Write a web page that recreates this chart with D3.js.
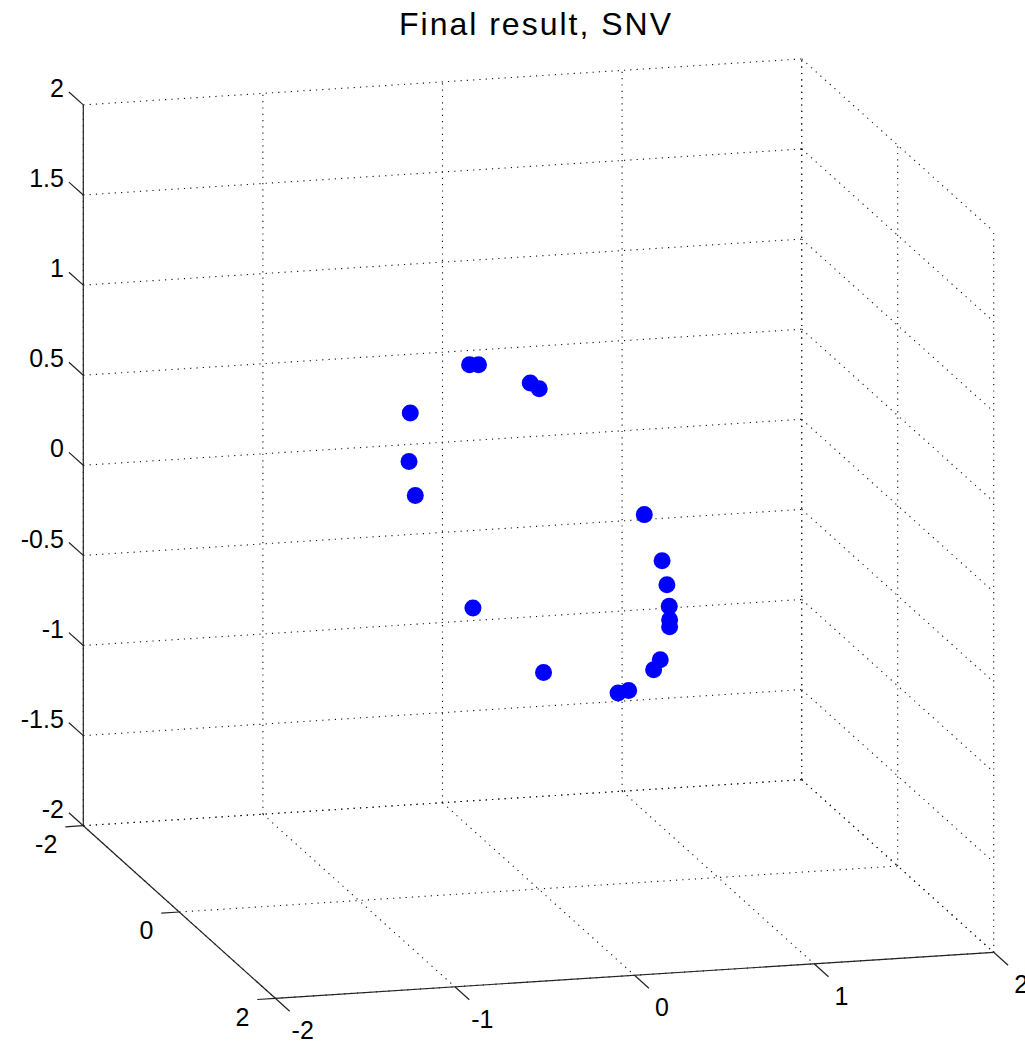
<!DOCTYPE html>
<html>
<head>
<meta charset="utf-8">
<script src="https://cdn.jsdelivr.net/npm/d3@7"></script>
<style>
  html, body { margin: 0; padding: 0; background: #fff; }
  text { font-family: "Liberation Sans", Arial, sans-serif; fill: #000; }
</style>
</head>
<body>
<div id="chart"></div>
<script>
// point coordinates (x, y, z)
const xValues = [-0.384, -0.334, -0.046, 0.004, -0.714, -0.721, -0.686, 0.589, 0.688, 0.715,
                 0.728, 0.730, 0.730, 0.678, 0.641, 0.502, 0.443, -0.365, 0.028];
const yValues = [0, 0, 0, 0, 0, 0, 0, 0, 0, 0,
                 0, 0, 0, 0, 0, 0, 0, 0, 0];
const zValues = [0.934, 0.931, 0.811, 0.776, 0.687, 0.419, 0.228, 0.040, -0.222, -0.357,
                 -0.478, -0.552, -0.591, -0.771, -0.824, -0.930, -0.941, -0.417, -0.800];

const xTicks = [-2, -1, 0, 1, 2];
const yTicks = [-2, 0, 2];
const zTicks = [2, 1.5, 1, 0.5, 0, -0.5, -1, -1.5, -2];
const title = "Final result, SNV";

const width = 1025;
const height = 1045;

// projected box: corner (-2,-2,-2) and full-length axis vectors in pixels
const origin = [83.3, 825.7];
const EX = [718.4, -46];
const EY = [192, 172.6];
const EZ = [0, -720.8];

const sx = d3.scaleLinear().domain([-2, 2]).range([0, 1]);
const sy = d3.scaleLinear().domain([-2, 2]).range([0, 1]);
const sz = d3.scaleLinear().domain([-2, 2]).range([0, 1]);

function proj(x, y, z) {
  const a = sx(x), b = sy(y), c = sz(z);
  return [origin[0] + a * EX[0] + b * EY[0] + c * EZ[0],
          origin[1] + a * EX[1] + b * EY[1] + c * EZ[1]];
}

const svg = d3.select('#chart').append('svg')
  .attr('width', width)
  .attr('height', height);

// grid lines on the three back planes
const grid = [];
xTicks.forEach(x => {
  grid.push([[x, -2, -2], [x, -2, 2]]);   // back wall
  grid.push([[x, -2, -2], [x, 2, -2]]);   // floor
});
zTicks.forEach(z => {
  grid.push([[-2, -2, z], [2, -2, z]]);   // back wall
  grid.push([[2, -2, z], [2, 2, z]]);     // right wall
});
yTicks.forEach(y => {
  grid.push([[2, y, -2], [2, y, 2]]);     // right wall
  grid.push([[-2, y, -2], [2, y, -2]]);   // floor
});

svg.append('g').selectAll('line')
  .data(grid)
  .enter().append('line')
    .attr('x1', d => proj(...d[0])[0])
    .attr('y1', d => proj(...d[0])[1])
    .attr('x2', d => proj(...d[1])[0])
    .attr('y2', d => proj(...d[1])[1])
    .style('stroke', '#111')
    .style('stroke-width', 1.1)
    .style('stroke-dasharray', '1.2,5.1');

// solid axis lines
const axes = [
  [[-2, -2, -2], [-2, -2, 2]],
  [[-2, -2, -2], [-2, 2, -2]],
  [[-2, 2, -2], [2, 2, -2]]
];
svg.append('g').selectAll('line')
  .data(axes)
  .enter().append('line')
    .attr('x1', d => proj(...d[0])[0])
    .attr('y1', d => proj(...d[0])[1])
    .attr('x2', d => proj(...d[1])[0])
    .attr('y2', d => proj(...d[1])[1])
    .style('stroke', '#222')
    .style('stroke-width', 1.2);

function drawTicks(ticks, pos, dir, labelOffset, anchor) {
  const g = svg.append('g');
  ticks.forEach(t => {
    const p = pos(t);
    const e = [p[0] + dir[0], p[1] + dir[1]];
    g.append('line')
      .attr('x1', p[0]).attr('y1', p[1])
      .attr('x2', e[0]).attr('y2', e[1])
      .style('stroke', '#222')
      .style('stroke-width', 1.2);
    g.append('text')
      .attr('x', e[0] + labelOffset[0])
      .attr('y', e[1] + labelOffset[1])
      .attr('text-anchor', anchor)
      .attr('dominant-baseline', 'central')
      .style('font-size', '25px')
      .text(t);
  });
}

drawTicks(zTicks, z => proj(-2, -2, z), [-14.4, -12.9], [-5, -4], 'end');
drawTicks(yTicks, y => proj(-2, y, -2), [-18, 1.2], [-8, 17], 'end');
drawTicks(xTicks, x => proj(x, 2, -2), [14.4, 12.9], [13, 19], 'middle');

// points
const points = xValues.map((x, i) => proj(x, yValues[i], zValues[i]));
svg.append('g').selectAll('circle')
  .data(points)
  .enter().append('circle')
    .attr('cx', d => d[0])
    .attr('cy', d => d[1])
    .attr('r', 8.5)
    .attr('fill', '#0000ff');

svg.append('text')
  .attr('x', 535)
  .attr('y', 35)
  .attr('text-anchor', 'middle')
  .attr('textLength', 272)
  .attr('lengthAdjust', 'spacing')
  .style('font-size', '32px')
  .text(title);
</script>
</body>
</html>
